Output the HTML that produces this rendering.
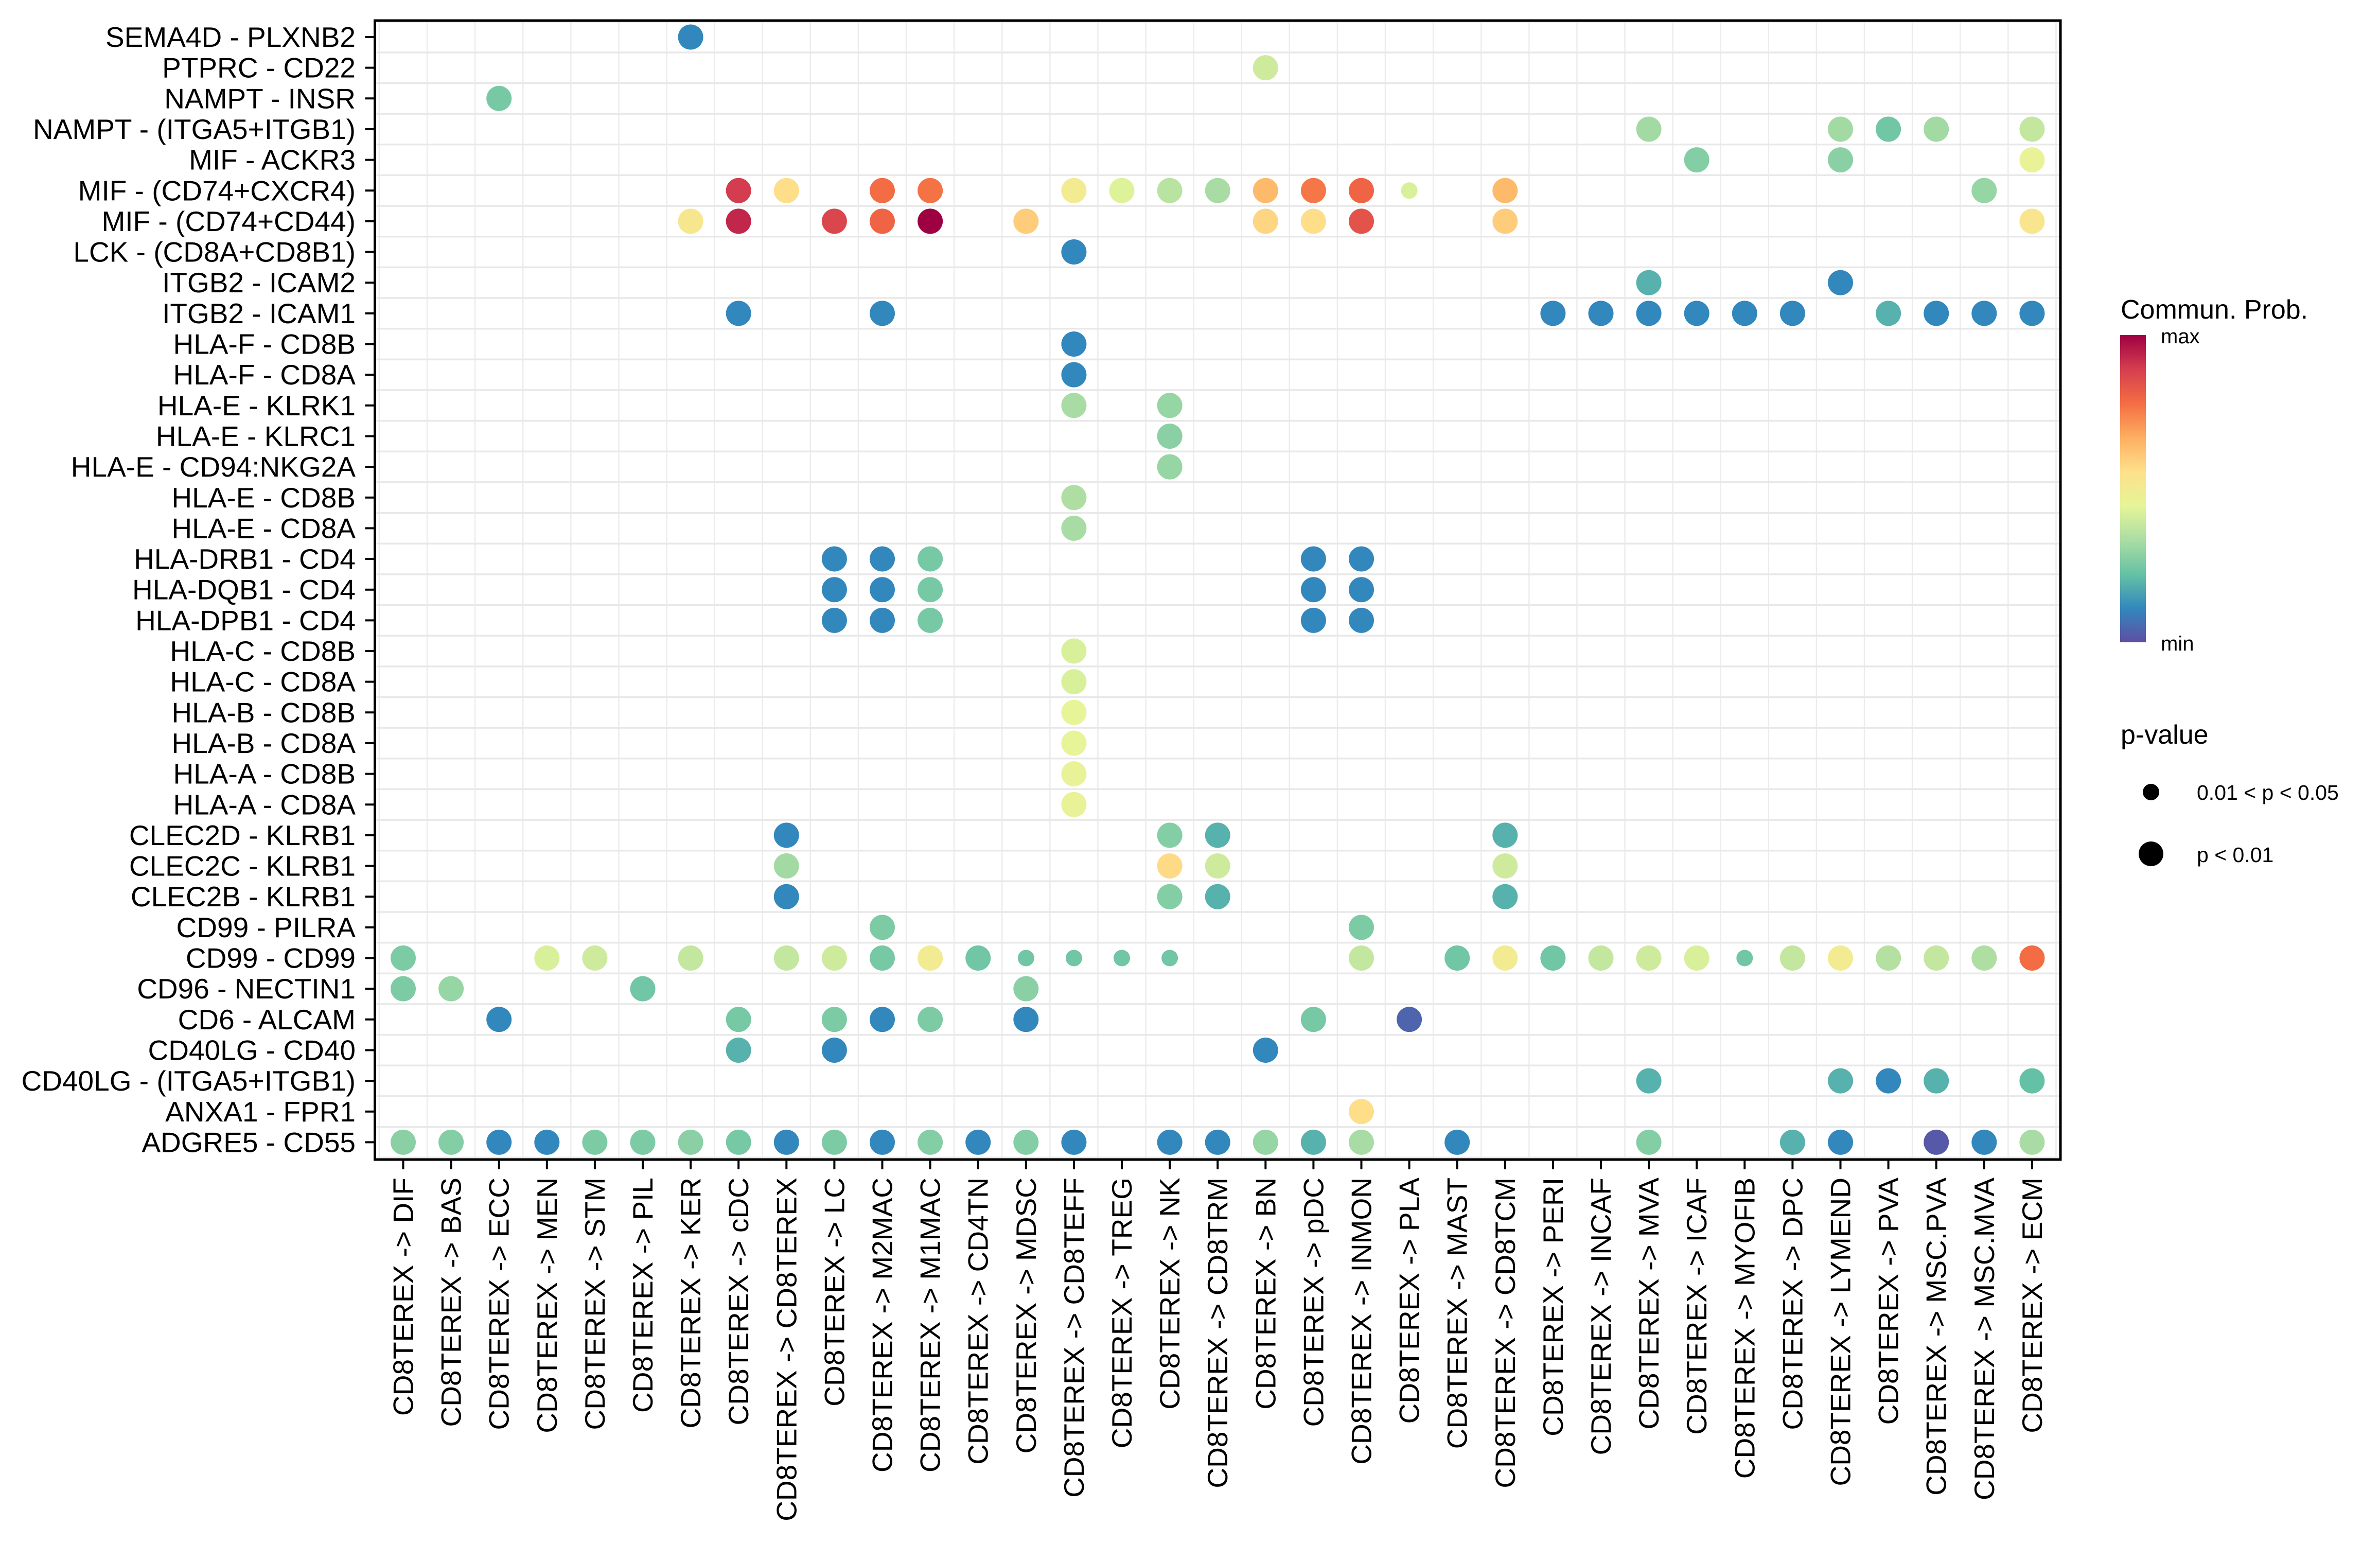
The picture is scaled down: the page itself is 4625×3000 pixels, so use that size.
<!DOCTYPE html>
<html><head><meta charset="utf-8"><style>
html,body{margin:0;padding:0;background:#fff;}
svg{display:block;font-family:"Liberation Sans",Arial,sans-serif;}
</style></head><body>
<svg id="chart" width="4625" height="3000" viewBox="0 0 4625 3000" xmlns="http://www.w3.org/2000/svg">
<rect width="4625" height="3000" fill="#fff"/>
<g id="grid"></g>
<g id="dots"></g>
<rect x="728.5" y="40" width="3275.5" height="2213" fill="none" stroke="#000" stroke-width="5"/>
<g id="yaxis"></g>
<g id="xaxis"></g>
<g>
<defs><linearGradient id="spec" x1="0" y1="1" x2="0" y2="0">
<stop offset="0" stop-color="#5E4FA2"/><stop offset="0.111" stop-color="#3288BD"/><stop offset="0.222" stop-color="#66C2A5"/><stop offset="0.333" stop-color="#ABDDA4"/><stop offset="0.444" stop-color="#E6F598"/><stop offset="0.556" stop-color="#FEE08B"/><stop offset="0.667" stop-color="#FDAE61"/><stop offset="0.778" stop-color="#F46D43"/><stop offset="0.889" stop-color="#D53E4F"/><stop offset="1" stop-color="#9E0142"/>
</linearGradient></defs>
<text x="4121" y="619" font-size="52">Commun. Prob.</text>
<rect x="4120" y="651" width="50" height="597" fill="url(#spec)"/>
<text x="4199" y="667" font-size="40">max</text>
<text x="4199" y="1264" font-size="40">min</text>
</g>
<g>
<text x="4121" y="1445" font-size="52">p-value</text>
<circle cx="4180" cy="1539" r="16" fill="#000"/>
<text x="4269" y="1554" font-size="41">0.01 &lt; p &lt; 0.05</text>
<circle cx="4180" cy="1659" r="24" fill="#000"/>
<text x="4269" y="1675" font-size="41">p &lt; 0.01</text>
</g>
</svg>
<script>
const rowLabels = ["SEMA4D - PLXNB2","PTPRC - CD22","NAMPT - INSR","NAMPT - (ITGA5+ITGB1)","MIF - ACKR3","MIF - (CD74+CXCR4)","MIF - (CD74+CD44)","LCK - (CD8A+CD8B1)","ITGB2 - ICAM2","ITGB2 - ICAM1","HLA-F - CD8B","HLA-F - CD8A","HLA-E - KLRK1","HLA-E - KLRC1","HLA-E - CD94:NKG2A","HLA-E - CD8B","HLA-E - CD8A","HLA-DRB1 - CD4","HLA-DQB1 - CD4","HLA-DPB1 - CD4","HLA-C - CD8B","HLA-C - CD8A","HLA-B - CD8B","HLA-B - CD8A","HLA-A - CD8B","HLA-A - CD8A","CLEC2D - KLRB1","CLEC2C - KLRB1","CLEC2B - KLRB1","CD99 - PILRA","CD99 - CD99","CD96 - NECTIN1","CD6 - ALCAM","CD40LG - CD40","CD40LG - (ITGA5+ITGB1)","ANXA1 - FPR1","ADGRE5 - CD55"];
const colTargets = ["DIF","BAS","ECC","MEN","STM","PIL","KER","cDC","CD8TEREX","LC","M2MAC","M1MAC","CD4TN","MDSC","CD8TEFF","TREG","NK","CD8TRM","BN","pDC","INMON","PLA","MAST","CD8TCM","PERI","INCAF","MVA","ICAF","MYOFIB","DPC","LYMEND","PVA","MSC.PVA","MSC.MVA","ECM"];
// each dot: [rowIndex, colIndex, commProb(0=min..1=max), significant(1: p<0.01, 0: 0.01<p<0.05)]
const dotData = [
[0,6,.11,1],[1,18,.4,1],[2,2,.25,1],
[3,26,.32,1],[3,30,.32,1],[3,31,.24,1],[3,32,.32,1],[3,34,.38,1],
[4,27,.27,1],[4,30,.28,1],[4,34,.46,1],
[5,7,.89,1],[5,8,.56,1],[5,10,.78,1],[5,11,.77,1],[5,14,.5,1],[5,15,.43,1],[5,16,.36,1],[5,17,.33,1],[5,18,.64,1],[5,19,.76,1],[5,20,.8,1],[5,21,.42,0],[5,23,.64,1],[5,33,.3,1],
[6,6,.52,1],[6,7,.93,1],[6,9,.87,1],[6,10,.8,1],[6,11,1,1],[6,13,.6,1],[6,18,.58,1],[6,19,.56,1],[6,20,.84,1],[6,23,.6,1],[6,34,.53,1],
[7,14,.11,1],[8,26,.19,1],[8,30,.11,1],
[9,7,.11,1],[9,10,.11,1],[9,24,.11,1],[9,25,.11,1],[9,26,.11,1],[9,27,.11,1],[9,28,.11,1],[9,29,.11,1],[9,31,.19,1],[9,32,.11,1],[9,33,.11,1],[9,34,.11,1],
[10,14,.11,1],[11,14,.11,1],[12,14,.33,1],[12,16,.3,1],[13,16,.28,1],[14,16,.3,1],[15,14,.34,1],[16,14,.33,1],
[17,9,.11,1],[17,10,.11,1],[17,11,.25,1],[17,19,.11,1],[17,20,.11,1],
[18,9,.11,1],[18,10,.11,1],[18,11,.25,1],[18,19,.11,1],[18,20,.11,1],
[19,9,.11,1],[19,10,.11,1],[19,11,.25,1],[19,19,.11,1],[19,20,.11,1],
[20,14,.42,1],[21,14,.42,1],[22,14,.45,1],[23,14,.45,1],[24,14,.46,1],[25,14,.46,1],
[26,8,.11,1],[26,16,.27,1],[26,17,.19,1],[26,23,.19,1],
[27,8,.32,1],[27,16,.57,1],[27,17,.4,1],[27,23,.4,1],
[28,8,.11,1],[28,16,.27,1],[28,17,.19,1],[28,23,.19,1],
[29,10,.26,1],[29,20,.26,1],
[30,0,.26,1],[30,3,.42,1],[30,4,.4,1],[30,6,.38,1],[30,8,.38,1],[30,9,.4,1],[30,10,.25,1],[30,11,.5,1],[30,12,.24,1],[30,13,.24,0],[30,14,.24,0],[30,15,.24,0],[30,16,.24,0],[30,20,.38,1],[30,22,.24,1],[30,23,.5,1],[30,24,.24,1],[30,25,.38,1],[30,26,.4,1],[30,27,.42,1],[30,28,.24,0],[30,29,.38,1],[30,30,.5,1],[30,31,.35,1],[30,32,.38,1],[30,33,.34,1],[30,34,.78,1],
[31,0,.26,1],[31,1,.3,1],[31,5,.24,1],[31,13,.28,1],
[32,2,.11,1],[32,7,.25,1],[32,9,.26,1],[32,10,.11,1],[32,11,.26,1],[32,13,.11,1],[32,19,.25,1],[32,21,.04,1],
[33,7,.19,1],[33,9,.11,1],[33,18,.11,1],
[34,26,.19,1],[34,30,.19,1],[34,31,.11,1],[34,32,.19,1],[34,34,.22,1],
[35,20,.56,1],
[36,0,.28,1],[36,1,.27,1],[36,2,.11,1],[36,3,.11,1],[36,4,.26,1],[36,5,.26,1],[36,6,.28,1],[36,7,.25,1],[36,8,.11,1],[36,9,.26,1],[36,10,.11,1],[36,11,.27,1],[36,12,.11,1],[36,13,.27,1],[36,14,.11,1],[36,16,.11,1],[36,17,.11,1],[36,18,.3,1],[36,19,.19,1],[36,20,.33,1],[36,22,.11,1],[36,26,.27,1],[36,29,.19,1],[36,30,.11,1],[36,32,.02,1],[36,33,.11,1],[36,34,.33,1]
];
const palette = ["#5E4FA2","#3288BD","#66C2A5","#ABDDA4","#E6F598","#FEE08B","#FDAE61","#F46D43","#D53E4F","#9E0142"];

const NS="http://www.w3.org/2000/svg";
const X0=783.5, DX=93.1, Y0=72, DY=59.65;
const PL=728.5, PR=4004, PT=40, PB=2253;
function xScale(c){return X0+DX*c;}
function yScale(r){return Y0+DY*r;}
function hex(h){return [parseInt(h.substr(1,2),16),parseInt(h.substr(3,2),16),parseInt(h.substr(5,2),16)];}
function color(v){v=Math.max(0,Math.min(1,v));const n=palette.length-1;const t=v*n;const i=Math.min(n-1,Math.floor(t));const f=t-i;const a=hex(palette[i]),b=hex(palette[i+1]);
return "rgb("+a.map((x,k)=>Math.round(x+(b[k]-x)*f)).join(",")+")";}
function mk(tag,attrs,parent){const e=document.createElementNS(NS,tag);for(const k in attrs)e.setAttribute(k,attrs[k]);parent.appendChild(e);return e;}

const grid=document.getElementById('grid');
for(let c=0;c<=colTargets.length;c++){
  const x=xScale(c-0.5);
  const l=mk('line',{x1:x,x2:x,y1:PT,y2:PB,stroke:'#ECECEC','stroke-width':2.5},grid);
  
  
}
for(let r=0;r<=rowLabels.length;r++){
  const y=yScale(r-0.5);
  const l=mk('line',{x1:PL,x2:PR,y1:y,y2:y,stroke:'#E8E8E8','stroke-width':3.5},grid);
  
  
}
const ya=document.getElementById('yaxis');
rowLabels.forEach((lab,r)=>{
  const y=yScale(r);
  const t=mk('line',{x1:PL-19,x2:PL,y1:y,y2:y,stroke:'#000','stroke-width':4},ya);
  
  
  const tx=mk('text',{x:691,y:y,'font-size':55,'text-anchor':'end','dominant-baseline':'central'},ya);
  tx.textContent=lab;
  
  
});
const xa=document.getElementById('xaxis');
colTargets.forEach((lab,c)=>{
  const x=xScale(c);
  const t=mk('line',{x1:x,x2:x,y1:PB,y2:PB+19,stroke:'#000','stroke-width':4},xa);
  
  
  const tx=mk('text',{x:x,y:2288,'font-size':55,'text-anchor':'end','dominant-baseline':'central',transform:'rotate(-90 '+x+' 2288)'},xa);
  tx.textContent='CD8TEREX -> '+lab;
  
  
});
const dg=document.getElementById('dots');
dotData.forEach(d=>{
  const c=mk('circle',{cx:xScale(d[1]),cy:yScale(d[0]),r:d[3]?24.5:16,fill:color(d[2])},dg);
  
  
});
</script>
</body></html>
